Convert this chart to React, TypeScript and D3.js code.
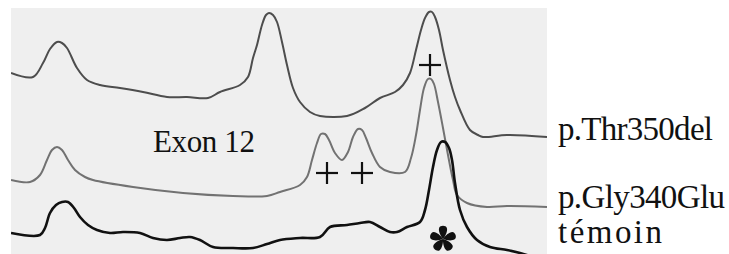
import React, { useEffect, useRef } from 'react';
import * as d3 from 'd3';

// scan position vs. signal
const traceThr350del: [number, number][] = [
  [0, 181], [22, 177], [32, 191], [39, 205], [46, 212], [51, 211], [56, 206], [66, 186], [76, 174],
  [89, 169], [109, 166], [132, 162], [156, 157], [176, 157], [197, 156], [209, 162], [229, 169],
  [237, 177], [242, 196], [246, 209], [251, 229], [255, 239], [258, 241], [262, 239], [266, 232],
  [271, 212], [276, 189], [282, 166], [289, 152], [299, 142], [309, 138], [336, 138], [354, 146],
  [369, 156], [384, 162], [392, 169], [399, 181], [405, 204], [410, 224], [414, 236], [418, 242],
  [421, 242], [424, 237], [428, 224], [432, 204], [439, 174], [444, 157], [449, 144], [459, 124],
  [467, 119], [472, 117], [496, 119], [536, 117],
];

const traceGly340Glu: [number, number][] = [
  [0, 74], [19, 72], [29, 79], [36, 94], [41, 104], [46, 107], [51, 104], [57, 94], [64, 84],
  [74, 77], [82, 74], [122, 67], [172, 61], [222, 58], [256, 58], [269, 62], [289, 69], [296, 77],
  [301, 94], [306, 111], [310, 120], [314, 120], [318, 114], [324, 101], [331, 94], [337, 102],
  [342, 117], [347, 125], [351, 124], [355, 116], [361, 101], [369, 87], [379, 82], [394, 82],
  [400, 96], [405, 119], [409, 144], [413, 166], [417, 175], [420, 175], [423, 170], [427, 152],
  [432, 126], [437, 99], [442, 74], [446, 59], [456, 51], [476, 47], [496, 48], [536, 47],
];

const traceTemoin: [number, number][] = [
  [0, 21], [29, 19], [34, 26], [39, 41], [45, 49], [51, 52], [57, 52], [63, 46], [69, 37], [77, 29],
  [86, 24], [99, 21], [112, 22], [129, 21], [142, 16], [156, 14], [169, 16], [179, 17], [189, 14],
  [202, 7], [222, 6], [242, 6], [256, 10], [269, 14], [289, 16], [309, 17], [319, 27], [336, 29],
  [349, 31], [359, 32], [369, 27], [379, 22], [386, 22], [396, 27], [409, 32], [414, 44], [418, 64],
  [422, 87], [426, 104], [430, 112], [434, 112], [438, 106], [441, 94], [444, 71], [449, 44],
  [456, 27], [466, 14], [479, 7], [496, 4], [509, 1], [519, -2],
];

const traceNames = ['p.Thr350del', 'p.Gly340Glu', 'témoin'];
const traceColors = ['#4d4d4d', '#727272', '#111111'];
const traceWidths = [2, 2, 2.6];

// annotation marks
const plusMarks: [number, number][] = [[419, 189], [316, 81], [351, 81]];
const starMark: [number, number] = [432, 15];
const exonLabel = 'Exon 12';

const W = 729;
const H = 254;

const App = () => {
  const svgRef = useRef<SVGSVGElement>(null);

  useEffect(() => {
    const svg = d3.select(svgRef.current);
    svg.selectAll('*').remove();

    const panel = { left: 11, right: 547, top: 8, bottom: 254 };

    const x = d3.scaleLinear().domain([0, 536]).range([panel.left, panel.right]);
    const y = d3.scaleLinear().domain([0, 246]).range([panel.bottom, panel.top]);

    // scanned paper background
    svg.append('rect')
      .attr('x', panel.left)
      .attr('y', panel.top)
      .attr('width', panel.right - panel.left)
      .attr('height', panel.bottom - panel.top)
      .attr('fill', '#efefef');

    svg.append('clipPath').attr('id', 'panel-clip')
      .append('rect')
      .attr('x', panel.left)
      .attr('y', panel.top)
      .attr('width', panel.right - panel.left)
      .attr('height', panel.bottom - panel.top);

    const line = d3.line<[number, number]>()
      .x(d => x(d[0]))
      .y(d => y(d[1]))
      .curve(d3.curveCatmullRom.alpha(0.5));

    const traces = [traceThr350del, traceGly340Glu, traceTemoin];
    const g = svg.append('g').attr('clip-path', 'url(#panel-clip)');
    traces.forEach((t, i) => {
      g.append('path')
        .datum(t)
        .attr('d', line)
        .attr('fill', 'none')
        .attr('stroke', traceColors[i])
        .attr('stroke-width', traceWidths[i])
        .attr('stroke-linejoin', 'round');
    });

    // + marks
    const half = 11;
    plusMarks.forEach(([px, py]) => {
      const cx = x(px);
      const cy = y(py);
      const m = svg.append('g').attr('stroke', '#111').attr('stroke-width', 2.2);
      m.append('line').attr('x1', cx - half).attr('x2', cx + half).attr('y1', cy).attr('y2', cy);
      m.append('line').attr('x1', cx).attr('x2', cx).attr('y1', cy - half).attr('y2', cy + half);
    });

    // five-lobed asterisk
    const lobe = 'M0,0 C-2.5,-3 -4.8,-8 -3.9,-11 C-3,-14 3,-14 3.9,-11 C4.8,-8 2.5,-3 0,0Z';
    const star = svg.append('g')
      .attr('transform', `translate(${x(starMark[0])},${y(starMark[1])})`);
    d3.range(5).forEach(k => {
      star.append('path')
        .attr('d', lobe)
        .attr('fill', '#111')
        .attr('transform', `rotate(${k * 72})`);
    });

    const font = '"Liberation Serif", "Times New Roman", serif';

    svg.append('text')
      .attr('x', 153)
      .attr('y', 152)
      .attr('font-family', font)
      .attr('font-size', 31)
      .attr('fill', '#111')
      .attr('textLength', 102)
      .attr('lengthAdjust', 'spacing')
      .text(exonLabel);

    const labelY = [140, 208, 243];
    const labelLen = [155, 167, 104];
    traceNames.forEach((name, i) => {
      svg.append('text')
        .attr('x', 558)
        .attr('y', labelY[i])
        .attr('font-family', font)
        .attr('font-size', 33)
        .attr('fill', '#111')
        .attr('textLength', labelLen[i])
        .attr('lengthAdjust', 'spacing')
        .text(name);
    });
  }, []);

  return (
    <svg
      ref={svgRef}
      width={W}
      height={H}
      style={{ position: 'absolute', left: 0, top: 0, background: '#ffffff' }}
    />
  );
};

export default App;
